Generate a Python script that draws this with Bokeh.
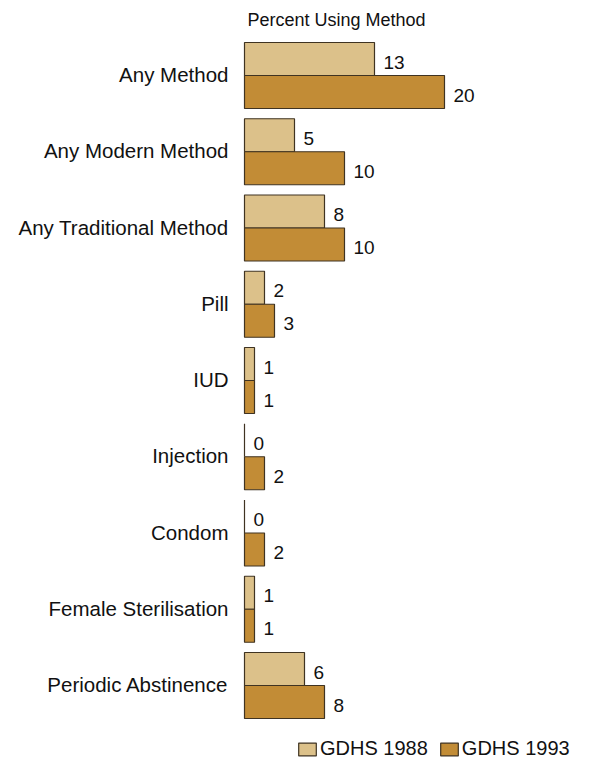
from bokeh.plotting import figure
from bokeh.models import ColumnDataSource, Range1d, Label, Legend, LegendItem
from bokeh.core.properties import value
from bokeh.embed import file_html
from bokeh.resources import INLINE

categories = ["Any Method", "Any Modern Method", "Any Traditional Method", "Pill", "IUD",
              "Injection", "Condom", "Female Sterilisation", "Periodic Abstinence"]
gdhs_1988 = [13, 5, 8, 2, 1, 0, 0, 1, 6]
gdhs_1993 = [20, 10, 10, 3, 1, 2, 2, 1, 8]
series_names = ["GDHS 1988", "GDHS 1993"]
title_text = "Percent Using Method"

LIGHT = "#dcc18a"
DARK = "#c28c36"
EDGE = "#3f3322"
FONT = "Liberation Sans"

W, H = 578, 760
x0_px = 244        # frame pixel of value 0
unit_px = 10.0     # pixels per percent
g0_px = 75         # frame pixel of first group center
g_px = 76.25       # pixels per group

p = figure(width=W, height=H, output_backend="svg", toolbar_location=None,
           min_border=0, outline_line_color=None, background_fill_color="white",
           border_fill_color="white")
p.x_range = Range1d(-x0_px / unit_px, (W - x0_px) / unit_px)
top = g0_px / g_px
p.y_range = Range1d(top - H / g_px, top)
p.xaxis.visible = False
p.yaxis.visible = False
p.grid.visible = False

n = len(categories)
ys = [-i for i in range(n)]
half = 0.5 * 33 / g_px
bh = 33 / g_px

src88 = ColumnDataSource(dict(y=[y + half for y in ys], v=gdhs_1988,
                              lab=[str(v) for v in gdhs_1988], cat=categories))
src93 = ColumnDataSource(dict(y=[y - half for y in ys], v=gdhs_1993,
                              lab=[str(v) for v in gdhs_1993], cat=categories))

r88 = p.hbar(y="y", left=0, right="v", height=bh, source=src88,
             fill_color=LIGHT, line_color=EDGE, line_width=1.2)
r93 = p.hbar(y="y", left=0, right="v", height=bh, source=src93,
             fill_color=DARK, line_color=EDGE, line_width=1.2)

for s in (src88, src93):
    p.text(x="v", y="y", text="lab", source=s, x_offset=9, y_offset=3,
           text_align="left", text_baseline="middle", text_font=value(FONT),
           text_font_size="19px", text_color="#111111")

catsrc = ColumnDataSource(dict(y=ys, cat=categories))
p.text(x=-1.6, y="y", text="cat", source=catsrc, text_align="right",
       text_baseline="middle", text_font=value(FONT), text_font_size="20.5px",
       text_color="#111111", y_offset=-1)

p.add_layout(Label(x=336, y=H - 19, x_units="screen", y_units="screen",
                   text=title_text, text_align="center", text_baseline="middle",
                   text_font=FONT, text_font_size="18px", text_color="#111111"))

legend = Legend(items=[LegendItem(label=series_names[0], renderers=[r88]),
                       LegendItem(label=series_names[1], renderers=[r93])],
                orientation="horizontal", location=(296, 0),
                glyph_width=22, glyph_height=16, label_standoff=2, spacing=10,
                padding=0, margin=0, border_line_color=None,
                background_fill_alpha=0, label_text_font=FONT,
                label_text_font_size="20px", label_text_color="#111111",
                label_height=16)
p.add_layout(legend)

open("out.html", "w").write(file_html(p, INLINE))
